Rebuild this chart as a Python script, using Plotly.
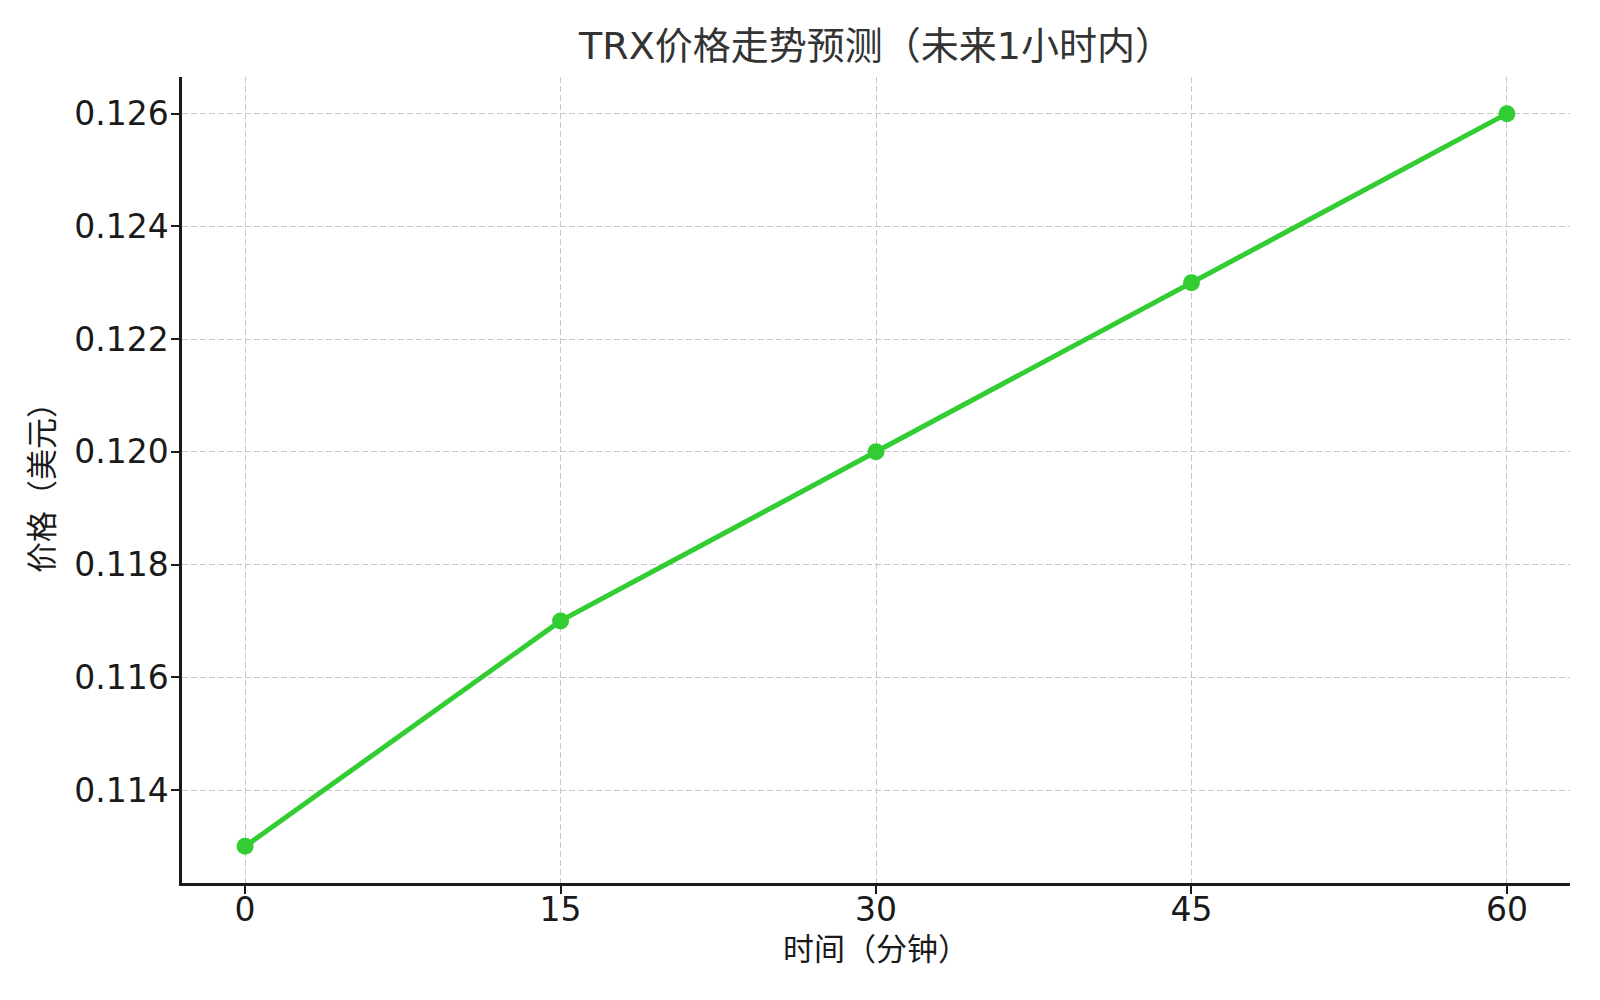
import plotly.graph_objects as go

# TRX price forecast for the next hour
minutes = [0, 15, 30, 45, 60]
price = [0.113, 0.117, 0.120, 0.123, 0.126]
x_ticks = [0, 15, 30, 45, 60]
y_ticks = [0.114, 0.116, 0.118, 0.120, 0.122, 0.124, 0.126]

title_text = "TRX价格走势预测（未来1小时内）"
x_label = "时间（分钟）"
y_label = "价格（美元）"

font_family = "DejaVu Sans, Noto Sans CJK SC, sans-serif"

fig = go.Figure()
fig.add_trace(go.Scatter(
    x=minutes, y=price,
    mode="lines+markers",
    line=dict(color="#32cd32", width=5),
    marker=dict(color="#32cd32", size=17),
    showlegend=False,
))

axis_common = dict(
    showline=True, linecolor="#1a1a1a", linewidth=2.5, mirror=False,
    ticks="outside", ticklen=8, tickwidth=2, tickcolor="#1a1a1a",
    showgrid=True, gridcolor="#c8c8c8", gridwidth=1.3, griddash="6px,3px",
    zeroline=False,
    tickfont=dict(size=33, color="#1a1a1a", family=font_family),
)

fig.update_layout(
    width=1600, height=1000,
    paper_bgcolor="white", plot_bgcolor="white",
    margin=dict(l=174, r=38, t=69, b=125),
    font=dict(family=font_family, color="#1a1a1a"),
    title=dict(text=title_text, x=0.5, xref="paper", xanchor="center",
               y=0.962, yanchor="middle",
               font=dict(size=38, color="#333333", family=font_family)),
    xaxis=dict(axis_common, range=[-3, 63], tickvals=x_ticks,
               ticklabelstandoff=-12,
               title=dict(text=x_label, font=dict(size=31), standoff=10)),
    yaxis=dict(axis_common, range=[0.11235, 0.12665], tickvals=y_ticks,
               tickformat=".3f", ticklabelstandoff=-4,
               title=dict(text=y_label, font=dict(size=31), standoff=12)),
)

fig.write_html("out.html")
